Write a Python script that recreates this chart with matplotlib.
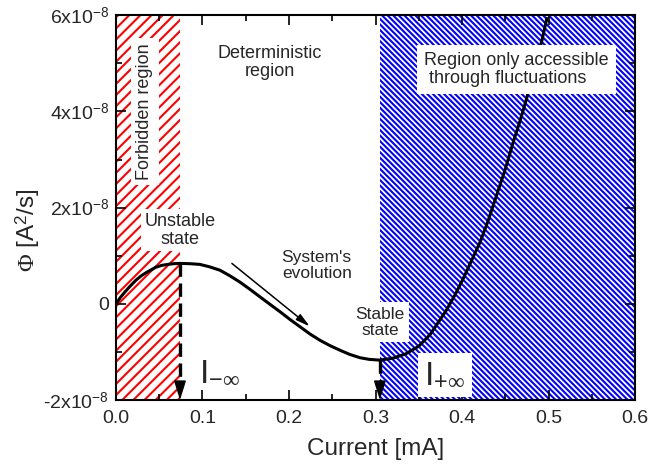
import numpy as np
import matplotlib
matplotlib.use("Agg")
import matplotlib.pyplot as plt

# ----- Dati -----
current = [0.0, 0.005, 0.01, 0.016, 0.023, 0.029, 0.035, 0.046, 0.053, 0.06,
           0.067, 0.074, 0.085, 0.097, 0.108, 0.12, 0.131, 0.143, 0.155,
           0.1665, 0.178, 0.19, 0.2015, 0.213, 0.2245, 0.236, 0.2475, 0.259,
           0.27, 0.282, 0.293, 0.305, 0.32, 0.335, 0.35, 0.363, 0.372, 0.382,
           0.392, 0.4015, 0.411, 0.421, 0.43, 0.44, 0.45, 0.4593, 0.467,
           0.4747, 0.483, 0.492, 0.498]
phi = [0.0, 0.13, 0.24, 0.36, 0.49, 0.58, 0.65, 0.76, 0.80, 0.82,
       0.835, 0.84, 0.835, 0.82, 0.77, 0.70, 0.59, 0.455, 0.30,
       0.144, -0.01, -0.17, -0.33, -0.48, -0.63, -0.76, -0.87, -0.965,
       -1.05, -1.12, -1.155, -1.17, -1.13, -1.04, -0.88, -0.64, -0.4, -0.13,
       0.19, 0.53, 0.9, 1.29, 1.72, 2.26, 2.8, 3.37, 3.8,
       4.27, 4.85, 5.45, 5.93]
phi = np.array(phi) * 1e-8

i_unstable, phi_unstable = 0.074, 0.84e-8
i_stable, phi_stable = 0.305, -1.17e-8
evol_start = (0.134, 0.84e-8)
evol_end = (0.224, -0.47e-8)

x_ticks = [0.0, 0.1, 0.2, 0.3, 0.4, 0.5, 0.6]
x_labels = ["0.0", "0.1", "0.2", "0.3", "0.4", "0.5", "0.6"]
y_ticks = [-2e-8, 0, 2e-8, 4e-8, 6e-8]
y_labels = [r"-2x10$^{\mathregular{-8}}$", "0", r"2x10$^{\mathregular{-8}}$",
            r"4x10$^{\mathregular{-8}}$", r"6x10$^{\mathregular{-8}}$"]

x_min, x_max = 0.0, 0.6
y_min, y_max = -2e-8, 6e-8

plt.rcParams['font.family'] = ['Liberation Sans', 'DejaVu Sans']
plt.rcParams['mathtext.fontset'] = 'custom'
plt.rcParams['mathtext.rm'] = 'Liberation Serif'
plt.rcParams['mathtext.it'] = 'Liberation Serif:italic'
plt.rcParams['mathtext.sf'] = 'Liberation Sans'
plt.rcParams['hatch.linewidth'] = 1.5

txt = '#262626'


def main():
    fig = plt.figure(figsize=(6.65, 4.74), dpi=100)
    ax = fig.add_axes([0.1744, 0.156, 0.7806, 0.812])

    # zone tratteggiate
    ax.axvspan(x_min, i_unstable, facecolor='none', edgecolor='red',
               hatch='///', linewidth=0, zorder=0)
    ax.axvspan(i_stable, x_max, facecolor='none', edgecolor='blue',
               hatch='\\' * 6, linewidth=0, zorder=0)

    ax.plot(current, phi, color='black', lw=2.2, zorder=2,
            solid_joinstyle='round')

    # frecce tratteggiate verso gli stati
    for xi, yi in [(i_unstable, phi_unstable), (i_stable, phi_stable)]:
        ax.plot([xi, xi], [yi, y_min + 0.3e-8], color='black', lw=2.4,
                ls=(0, (4, 2)), zorder=2)
        ax.annotate('', xy=(xi, y_min), xytext=(xi, y_min + 0.3e-8),
                    arrowprops=dict(arrowstyle='-|>,head_length=0.8,head_width=0.25',
                                    color='black', lw=1, mutation_scale=15,
                                    shrinkA=0, shrinkB=0), zorder=3)

    ax.annotate('', xy=evol_end, xytext=evol_start,
                arrowprops=dict(arrowstyle='-|>,head_length=0.7,head_width=0.18',
                                color='black', lw=1.1, mutation_scale=12,
                                shrinkA=0, shrinkB=0))

    box = dict(facecolor='white', edgecolor='none', boxstyle='square,pad=0.3')
    ax.text(0.0335, 4.0e-8, "Forbidden region", rotation=90, ha='center',
            va='center', fontsize=13, color=txt, bbox=box)
    ax.text(0.074, 1.53e-8, "Unstable\nstate", ha='center', va='center',
            fontsize=13, color=txt, linespacing=1.1,
            bbox=dict(facecolor='white', edgecolor='none', boxstyle='square,pad=0.2'))
    ax.text(0.178, 5.02e-8, "Deterministic\nregion", ha='center', va='center',
            fontsize=13, color=txt, linespacing=1.1)
    ax.text(0.232, 0.8e-8, "System's\nevolution", ha='center', va='center',
            fontsize=12.5, color=txt, linespacing=1.1)
    ax.text(0.463, 4.87e-8, "Region only accessible\n through fluctuations",
            ha='center', va='center', multialignment='left', fontsize=13,
            color=txt, linespacing=1.1,
            bbox=dict(facecolor='white', edgecolor='none', boxstyle='square,pad=0.4'))
    ax.text(0.305, -0.38e-8, "Stable\nstate", ha='center', va='center',
            fontsize=12.5, color=txt, linespacing=1.1,
            bbox=dict(facecolor='white', edgecolor='none', boxstyle='square,pad=0.25'))
    ax.text(0.12, -1.44e-8, r"$\mathregular{I}_{\mathregular{-}\infty}$",
            ha='center', va='center', fontsize=24, color=txt)
    ax.text(0.38, -1.48e-8, r"$\mathregular{I}_{\mathregular{+}\infty}$",
            ha='center', va='center', fontsize=24, color=txt,
            bbox=dict(facecolor='white', edgecolor='none', boxstyle='square,pad=0.2'))

    ax.set_xlim(x_min, x_max)
    ax.set_ylim(y_min, y_max)
    ax.set_xticks(x_ticks, x_labels)
    ax.set_yticks(y_ticks, y_labels)
    ax.set_xticks(np.arange(0.05, 0.6, 0.1), minor=True)
    ax.set_yticks([-1e-8, 1e-8, 3e-8, 5e-8], minor=True)
    ax.tick_params(which='both', direction='in', top=True, right=True,
                   width=1.2, labelsize=14, labelcolor=txt)
    ax.tick_params(which='major', length=7)
    ax.tick_params(which='minor', length=4)
    ax.tick_params(axis='x', pad=7)
    ax.tick_params(axis='y', pad=5)
    for s in ax.spines.values():
        s.set_linewidth(1.5)

    ax.set_xlabel("Current [mA]", fontsize=17.5, color=txt, labelpad=8)
    ax.set_ylabel(r"$\Phi$ [A$^\mathregular{2}$/s]", fontsize=17.5, color=txt)
    ax.yaxis.set_label_coords(-0.143, 0.44)

    plt.savefig("out.png", dpi=100)


if __name__ == '__main__':
    main()
